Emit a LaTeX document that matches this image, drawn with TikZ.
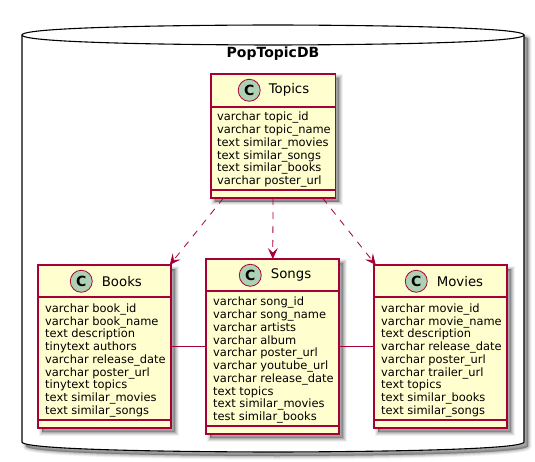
\documentclass[tikz,border=0pt]{standalone}
\usepackage{fontspec}
\setmainfont{DejaVu Sans}
\usetikzlibrary{positioning,arrows.meta,shadows}

\definecolor{umlborder}{HTML}{A80036}
\definecolor{umlfill}{HTML}{FEFECE}
\definecolor{umlicon}{HTML}{ADD1B2}

\tikzset{
  softshadow/.style={
    general shadow={shadow xshift=4pt,shadow yshift=-4pt,draw=black,fill=black,line width=7pt,opacity=.05},
    general shadow={shadow xshift=4pt,shadow yshift=-4pt,draw=black,fill=black,line width=5pt,opacity=.08},
    general shadow={shadow xshift=4pt,shadow yshift=-4pt,draw=black,fill=black,line width=3pt,opacity=.1},
    general shadow={shadow xshift=4pt,shadow yshift=-4pt,draw=black,fill=black,line width=1pt,opacity=.12}},
  classbox/.style={draw=umlborder,fill=umlfill,line width=1.2pt,inner sep=0pt,outer sep=0pt,softshadow},
  classicon/.style={circle,draw=umlborder,fill=umlicon,line width=.8pt,minimum size=22pt,inner sep=0pt,font=\fontsize{14}{14}\selectfont\bfseries},
  classname/.style={inner sep=0pt,font=\fontsize{13.3}{15}\selectfont},
  members/.style={inner sep=0pt,align=left,font=\fontsize{11.45}{12.75}\selectfont},
  depend/.style={umlborder,line width=.8pt,dash pattern=on 7pt off 7pt,-{Stealth[length=11pt,width=10pt,inset=4.5pt]}},
  assoc/.style={umlborder,line width=.8pt},
}

\begin{document}
\begin{tikzpicture}[x=1pt,y=-1pt]
  \useasboundingbox (0,0) rectangle (535,462);

  % database
  \draw[black,line width=1.1pt,fill=white,softshadow] (22,35) .. controls (22,25) and (273,25) .. (273,25)
     .. controls (273,25) and (524,25) .. (524,35) -- (524,442)
     .. controls (524,452) and (273,452) .. (273,452)
     .. controls (273,452) and (22,452) .. (22,442) -- cycle;
  \draw[black,line width=1.1pt] (22,35) .. controls (22,45) and (273,45) .. (273,45)
     .. controls (273,45) and (524,45) .. (524,35);
  \node[inner sep=0pt,font=\fontsize{14}{16}\selectfont\bfseries] (dbname) at (273,54) {PopTopicDB};

  % classes
  \node[classbox,minimum width=124.5pt,minimum height=124pt] (topics) at (273.2,136) {};
  \node[classbox,minimum width=133pt,minimum height=163pt] (books) at (104.5,346.5) {};
  \node[classbox,minimum width=133pt,minimum height=175pt] (songs) at (272.5,346.5) {};
  \node[classbox,minimum width=133pt,minimum height=163pt] (movies) at (440.5,346.5) {};

  \foreach \cls/\top/\bot in {topics/33/8,books/32/8,songs/32/8,movies/32/8} {
    \draw[umlborder,line width=1.2pt] ([yshift=-\top pt]\cls.north west) -- ([yshift=-\top pt]\cls.north east);
    \draw[umlborder,line width=1.2pt] ([yshift=\bot pt]\cls.south west) -- ([yshift=\bot pt]\cls.south east);
  }

  \node[classicon,below right=8.2pt and 30.2pt of topics.north west] (topicsicon) {C};
  \node[classname,right=8pt of topicsicon] (topicsname) {Topics};
  \node[classicon,below right=8.2pt and 35.2pt of books.north west] (booksicon) {C};
  \node[classname,right=9pt of booksicon] (booksname) {Books};
  \node[classicon,below right=8.2pt and 36.2pt of songs.north west] (songsicon) {C};
  \node[classname,right=9pt of songsicon] (songsname) {Songs};
  \node[classicon,below right=8.2pt and 34.2pt of movies.north west] (moviesicon) {C};
  \node[classname,right=9pt of moviesicon] (moviesname) {Movies};

  \node[members,below right=38pt and 6pt of topics.north west] (topicsfields) {varchar topic\_id\\varchar topic\_name\\text similar\_movies\\text similar\_songs\\text similar\_books\\varchar poster\_url};
  \node[members,below right=38.5pt and 7pt of books.north west] (booksfields) {varchar book\_id\\varchar book\_name\\text description\\tinytext authors\\varchar release\_date\\varchar poster\_url\\tinytext topics\\text similar\_movies\\text similar\_songs};
  \node[members,below right=38pt and 7pt of songs.north west] (songsfields) {varchar song\_id\\varchar song\_name\\varchar artists\\varchar album\\varchar poster\_url\\varchar youtube\_url\\varchar release\_date\\text topics\\text similar\_movies\\test similar\_books};
  \node[members,below right=38.5pt and 7pt of movies.north west] (moviesfields) {varchar movie\_id\\varchar movie\_name\\text description\\varchar release\_date\\varchar poster\_url\\varchar trailer\_url\\text topics\\text similar\_books\\text similar\_songs};

  % relations
  \draw[depend] (topics) -- (books);
  \draw[depend] (topics) -- (songs);
  \draw[depend] (topics) -- (movies);
  \draw[assoc] (books) -- (songs);
  \draw[assoc] (songs) -- (movies);
\end{tikzpicture}
\end{document}
